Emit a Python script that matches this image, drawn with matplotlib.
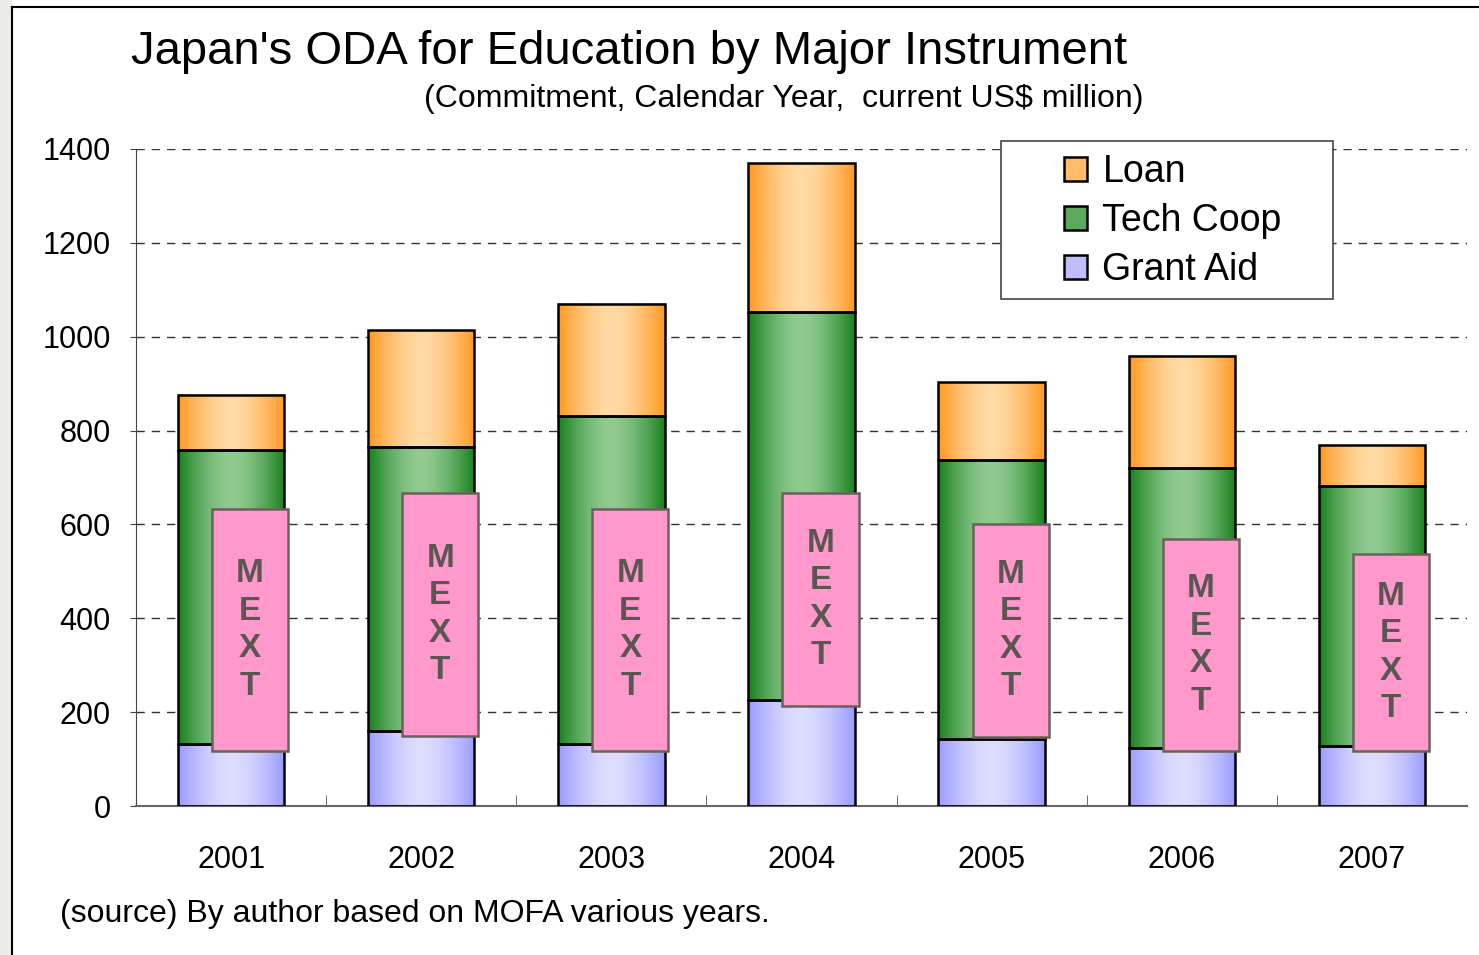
import numpy as np
import matplotlib.pyplot as plt
from matplotlib.patches import Rectangle, Patch
from matplotlib.colors import to_rgb

# Data (US$ million)
years = ['2001', '2002', '2003', '2004', '2005', '2006', '2007']
grant_aid = [132, 160, 132, 226, 143, 124, 128]
tech_coop = [626, 605, 699, 827, 594, 596, 554]
loan = [118, 249, 239, 317, 166, 239, 87]
# MEXT share shown as overlay boxes (bottom, top)
mext_bottom = [117, 149, 117, 213, 147, 117, 117]
mext_top = [633, 667, 633, 667, 601, 569, 537]

plt.rcParams['font.family'] = ['Liberation Sans', 'DejaVu Sans']

fig = plt.figure(figsize=(14.79, 9.55), dpi=100)
ax = fig.add_axes([136/1479, 1-806/955, 1331/1479, 657/955])

x = np.arange(len(years))
w = 0.56

# colours: (edge, centre) of the horizontal gradient
styles = {
    'Grant Aid': ('#9a9aff', '#dedeff'),
    'Tech Coop': ('#17801c', '#92cb92'),
    'Loan': ('#ff981f', '#ffdba6'),
}

def gradient(c_edge, c_mid, n=200):
    t = np.linspace(0, 1, n)
    prof = 1 - np.abs((t - 0.5) / 0.5) ** 1.6
    prof = np.clip(prof, 0, 1)
    e, m = np.array(to_rgb(c_edge)), np.array(to_rgb(c_mid))
    return (e[None, :] * (1 - prof[:, None]) + m[None, :] * prof[:, None])[None, :, :]

bottom = np.zeros(len(years))
for name, vals in [('Grant Aid', grant_aid), ('Tech Coop', tech_coop), ('Loan', loan)]:
    img = gradient(*styles[name])
    bars = ax.bar(x, vals, w, bottom=bottom, facecolor='none', edgecolor='black',
                  linewidth=1.8, zorder=3)
    for b in bars:
        ax.imshow(img, extent=[b.get_x(), b.get_x() + b.get_width(), b.get_y(), b.get_y() + b.get_height()],
                  aspect='auto', zorder=2, interpolation='bilinear')
    bottom += np.array(vals)

# MEXT boxes
bw, off = 0.40, 0.10
for i in range(len(years)):
    ax.add_patch(Rectangle((x[i] + off - bw/2, mext_bottom[i]), bw, mext_top[i] - mext_bottom[i],
                           facecolor='#ff99cc', edgecolor='#6a615b', linewidth=1.8, zorder=4))
    ax.text(x[i] + off, (mext_bottom[i] + mext_top[i]) / 2, 'M\nE\nX\nT', ha='center', va='center',
            fontsize=24, fontweight='bold', color='#5c5652', linespacing=1.27, zorder=5)

ax.set_xlim(-0.5, len(years) - 0.5)
ax.set_ylim(0, 1400)
ax.set_yticks(range(0, 1401, 200))
ax.yaxis.grid(True, linestyle=(0, (6, 5)), color='#333333', linewidth=1.0, zorder=0)
ax.set_axisbelow(True)
ax.set_xticks(x)
ax.set_xticklabels(years)
ax.set_xticks(np.arange(0.5, len(years) - 0.5, 1), minor=True)
ax.tick_params(axis='x', which='major', length=0, pad=28, labelsize=22)
ax.tick_params(axis='x', which='minor', direction='in', length=8, color='#555555')
ax.tick_params(axis='y', length=4, pad=14, labelsize=22, color='#444444')
for s in ['top', 'right']:
    ax.spines[s].set_visible(False)
ax.spines['left'].set_color('#444444')
ax.spines['bottom'].set_color('#666666')
ax.spines['bottom'].set_linewidth(1.5)

# legend
ax.add_patch(Rectangle((0.650, 0.772), 0.249, 0.240, transform=ax.transAxes, facecolor='white',
                       edgecolor='#444444', linewidth=1.2, zorder=6, clip_on=False))
names = ['Loan', 'Tech Coop', 'Grant Aid']
handles = []
for n in names:
    c = np.array(to_rgb(styles[n][0])) * 0.45 + np.array(to_rgb(styles[n][1])) * 0.55
    handles.append(Patch(facecolor=c, edgecolor='black', linewidth=1.8))
leg = ax.legend(handles, names, loc='upper left',
                bbox_to_anchor=(0.672, 1.043), frameon=False, fontsize=27,
                handlelength=0.62, handleheight=0.62, handletextpad=0.4, labelspacing=0.34)
leg.set_zorder(7)

# titles and note
fig.text(131/1479, 1-64/955, "Japan's ODA for Education by Major Instrument", fontsize=34,
         ha='left', va='baseline')
fig.text(1143/1479, 1-107/955, "(Commitment, Calendar Year,  current US$ million)",
         fontsize=23, ha='right', va='baseline')
fig.text(60/1479, 1-922/955, "(source) By author based on MOFA various years.", fontsize=23,
         ha='left', va='baseline')

# page frame
fig.patches.append(Rectangle((0, 0), 12/1479, 1, transform=fig.transFigure, facecolor='#ecebe7',
                             edgecolor='none', zorder=0))
fig.lines.append(plt.Line2D([12/1479, 12/1479], [0, 1-7/955], transform=fig.transFigure, color='black', lw=1.5))
fig.lines.append(plt.Line2D([12/1479, 1], [1-7/955, 1-7/955], transform=fig.transFigure, color='black', lw=1.5))

fig.savefig('out.png', dpi=100)
